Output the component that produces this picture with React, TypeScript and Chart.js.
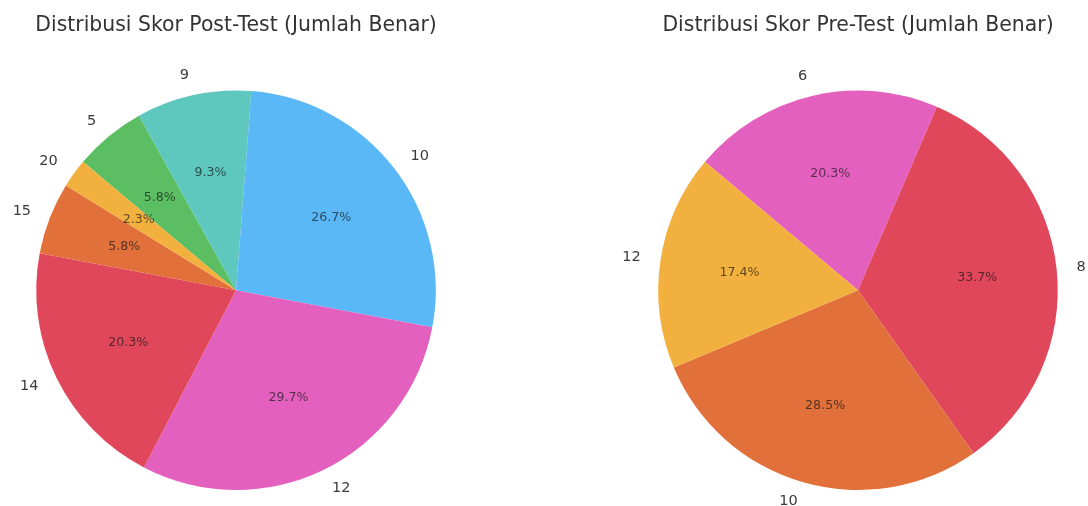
import React, { useEffect, useRef } from 'react';
import { Chart, registerables } from 'chart.js';

Chart.register(...registerables);

// Post-test: score (number correct) and student counts
const postLabels = ['5', '9', '10', '12', '14', '15', '20'];
const postCounts = [10, 16, 46, 51, 35, 10, 4];
const postColors = ['#5CBE63', '#5EC7BE', '#5BB8F6', '#E460BE', '#E0475B', '#E2703A', '#F2B03E'];
const postTitle = 'Distribusi Skor Post-Test (Jumlah Benar)';

// Pre-test
const preLabels = ['6', '8', '10', '12'];
const preCounts = [35, 58, 49, 30];
const preColors = ['#E460BE', '#E0475B', '#E2703A', '#F2B03E'];
const preTitle = 'Distribusi Skor Pre-Test (Jumlah Benar)';

const START_ANGLE = -50;
const FONT = '"DejaVu Sans", "Liberation Sans", sans-serif';

const pieLabelsPlugin = {
  id: 'pieLabels',
  afterDatasetsDraw(chart: any) {
    const ctx = chart.ctx;
    const meta = chart.getDatasetMeta(0);
    const data = chart.data.datasets[0].data as number[];
    const total = data.reduce((a, b) => a + b, 0);
    ctx.save();
    meta.data.forEach((arc: any, i: number) => {
      const { x, y, startAngle, endAngle, outerRadius } = arc.getProps(
        ['x', 'y', 'startAngle', 'endAngle', 'outerRadius'],
        true
      );
      const mid = (startAngle + endAngle) / 2;
      const c = Math.cos(mid);
      const s = Math.sin(mid);
      ctx.textBaseline = 'middle';
      ctx.font = `14.5px ${FONT}`;
      ctx.fillStyle = '#3a3a3a';
      ctx.textAlign = c > 0 ? 'left' : 'right';
      ctx.fillText(String(chart.data.labels[i]), x + 1.1 * outerRadius * c, y + 1.1 * outerRadius * s);
      ctx.font = `12.6px ${FONT}`;
      ctx.fillStyle = 'rgba(20,20,20,0.68)';
      ctx.textAlign = 'center';
      ctx.fillText(((data[i] / total) * 100).toFixed(1) + '%', x + 0.6 * outerRadius * c, y + 0.6 * outerRadius * s);
    });
    ctx.restore();
  },
};

function PieChart(props: {
  labels: string[];
  counts: number[];
  colors: string[];
  title: string;
  left: number;
  width: number;
  padLeft: number;
}) {
  const ref = useRef<HTMLCanvasElement | null>(null);
  useEffect(() => {
    if (!ref.current) return;
    const chart = new Chart(ref.current, {
      type: 'pie',
      data: {
        labels: props.labels,
        datasets: [
          {
            data: props.counts,
            backgroundColor: props.colors,
            borderWidth: 0,
            hoverOffset: 0,
          },
        ],
      },
      options: {
        responsive: false,
        animation: false,
        events: [],
        rotation: START_ANGLE,
        layout: { padding: { top: 0, bottom: 16, left: props.padLeft, right: 0 } },
        plugins: {
          legend: { display: false },
          tooltip: { enabled: false },
          title: {
            display: true,
            text: props.title,
            color: '#333333',
            font: { family: FONT, size: 20.4, weight: 'normal' as any, lineHeight: 1.2 },
            padding: { top: 13, bottom: 53 },
          },
        },
      },
      plugins: [pieLabelsPlugin as any],
    });
    return () => chart.destroy();
  }, []);
  return (
    <canvas
      ref={ref}
      width={props.width}
      height={506}
      style={{ position: 'absolute', left: props.left, top: 0, width: props.width, height: 506 }}
    />
  );
}

export default function App() {
  return (
    <div style={{ position: 'fixed', left: 0, top: 0, width: 1088, height: 506, background: '#ffffff' }}>
      <PieChart labels={postLabels} counts={postCounts} colors={postColors} title={postTitle} left={0} width={472} padLeft={0} />
      <PieChart labels={preLabels} counts={preCounts} colors={preColors} title={preTitle} left={560} width={528} padLeft={68} />
    </div>
  );
}
